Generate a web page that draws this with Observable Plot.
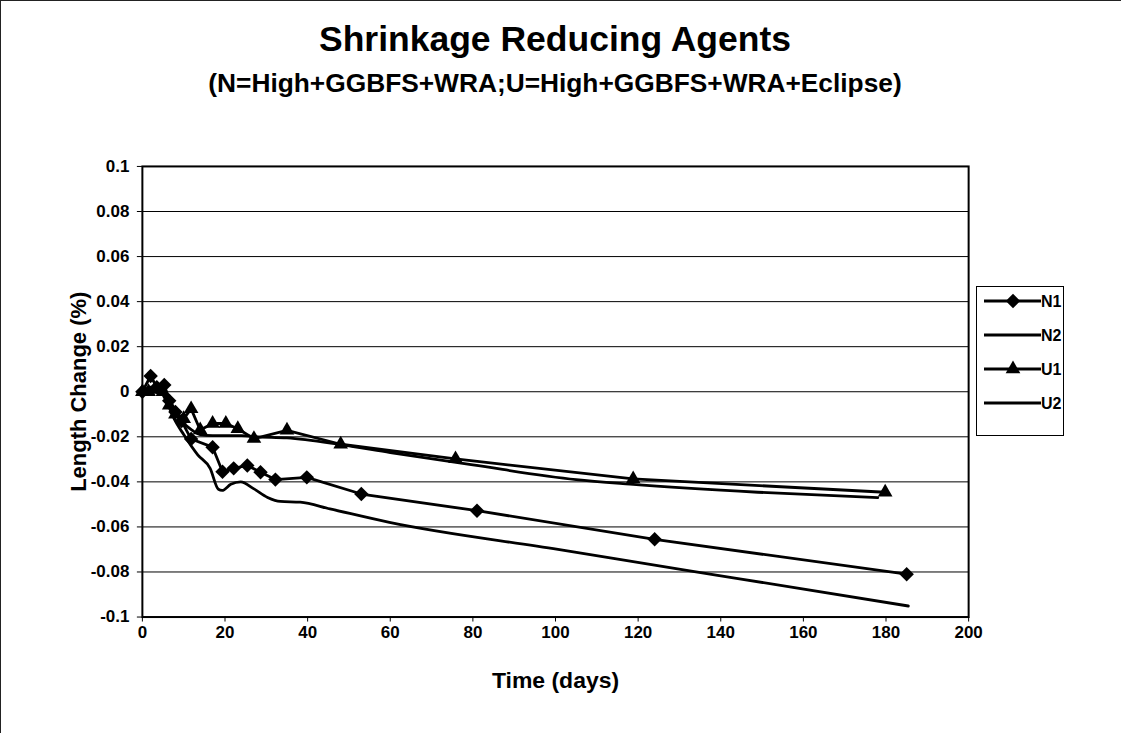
<!DOCTYPE html>
<html>
<head>
<meta charset="utf-8">
<script src="https://cdn.jsdelivr.net/npm/d3@7"></script>
<script src="https://cdn.jsdelivr.net/npm/@observablehq/plot@0.6"></script>
<style>
  body { margin: 0; background: #fff; }
  #wrap { position: relative; width: 1121px; height: 733px; box-sizing: border-box;
          border-left: 1px solid #222; border-top: 1px solid #222; overflow: hidden;
          font-family: "Liberation Sans", Arial, sans-serif; font-weight: bold; color: #000; }
  #title { position: absolute; left: 0; width: 1108px; top: 19px; text-align: center;
           font-size: 35.5px; line-height: 38px; }
  #subtitle { position: absolute; left: 0; width: 1108px; top: 68px; text-align: center;
              font-size: 26.3px; line-height: 28px; }
  #chart { position: absolute; left: 0; top: 110px; }
  #legend { position: absolute; left: 975px; top: 285px; width: 88px; height: 150px;
            box-sizing: border-box; border: 1px solid #000; background: #fff; }
</style>
</head>
<body>
<div id="wrap">
  <div id="title">Shrinkage Reducing Agents</div>
  <div id="subtitle">(N=High+GGBFS+WRA;U=High+GGBFS+WRA+Eclipse)</div>
  <div id="chart"></div>
  <div id="legend"></div>
</div>
<script>
// ---- data ----
const n1Days = [0, 2, 3.5, 5.3, 6.5, 8, 9.5, 11.8, 17, 19.4, 22.1, 25.4, 28.6, 32.2, 39.8, 53, 81, 124, 185];
const n1Vals = [0, 0.007, 0.002, 0.003, -0.004, -0.009, -0.013, -0.021, -0.0246, -0.0355, -0.034, -0.0327, -0.0357, -0.039, -0.038, -0.0454, -0.0528, -0.0655, -0.081];

const n2Days = [0, 2, 4, 6, 7.7, 10, 13.4, 16.4, 18.4, 19.3, 21.4, 23.8, 26.9, 30.3, 33.4, 38.2, 45.4, 59.8, 100.6, 132.5, 143.8, 185.4];
const n2Vals = [0, 0.002, 0.001, -0.005, -0.012, -0.019, -0.028, -0.034, -0.0433, -0.0438, -0.0411, -0.040, -0.043, -0.0469, -0.0487, -0.049, -0.052, -0.058, -0.070, -0.0795, -0.0828, -0.0951];

const u1Days = [0, 1.5, 3, 5, 6.5, 8, 10, 11.8, 14, 17, 20.2, 23.1, 27, 35, 48, 75.8, 118.8, 179.8];
const u1Vals = [0, 0, 0.001, 0, -0.006, -0.010, -0.012, -0.0076, -0.017, -0.0141, -0.0141, -0.0164, -0.0208, -0.0171, -0.0233, -0.0298, -0.0387, -0.0446];

const u2Days = [0, 3, 5, 6.5, 8, 10, 12, 14, 17, 20, 24, 28, 35, 48, 60, 80, 105, 118, 149, 178];
const u2Vals = [0, 0.001, 0, -0.004, -0.009, -0.014, -0.017, -0.019, -0.0195, -0.0195, -0.0195, -0.020, -0.0205, -0.0235, -0.027, -0.0325, -0.039, -0.041, -0.0446, -0.047];

const seriesNames = ["N1", "N2", "U1", "U2"];
const xTicks = [0, 20, 40, 60, 80, 100, 120, 140, 160, 180, 200];
const xTickLabels = ["0", "20", "40", "60", "80", "100", "120", "140", "160", "180", "200"];
const yTicks = [0.1, 0.08, 0.06, 0.04, 0.02, 0, -0.02, -0.04, -0.06, -0.08, -0.1];
const yTickLabels = ["0.1", "0.08", "0.06", "0.04", "0.02", "0", "-0.02", "-0.04", "-0.06", "-0.08", "-0.1"];

const toRows = (days, vals) => days.map((d, i) => ({day: d, v: vals[i]}));
const N1 = toRows(n1Days, n1Vals);
const N2 = toRows(n2Days, n2Vals);
const U1 = toRows(u1Days, u1Vals);
const U2 = toRows(u2Days, u2Vals);

const FONT = "'Liberation Sans', Arial, sans-serif";

const chart = Plot.plot({
  width: 1121,
  height: 623,
  marginTop: 55,
  marginBottom: 117,
  marginLeft: 141,
  marginRight: 153,
  x: {domain: [0, 200]},
  y: {domain: [-0.1, 0.1]},
  style: {fontFamily: FONT, fontSize: "17px", fontWeight: "bold", color: "#000", background: "transparent", overflow: "visible"},
  marks: [
    Plot.gridY(yTicks, {stroke: "#000", strokeOpacity: 1, strokeWidth: 1}),
    Plot.axisY(yTicks, {tickSize: 5, tickPadding: 8, fontSize: 17, fontWeight: "bold",
      tickFormat: d => yTickLabels[yTicks.indexOf(d)], label: null}),
    Plot.axisY([], {tickSize: 0, label: "Length Change (%)", labelAnchor: "center", labelArrow: "none",
      labelOffset: 72, fontSize: 22, fontWeight: "bold"}),
    Plot.axisX(xTicks, {tickSize: 5, tickPadding: 4, fontSize: 17, fontWeight: "bold",
      tickFormat: d => xTickLabels[xTicks.indexOf(d)], label: null}),
    Plot.axisX([], {tickSize: 0, label: "Time (days)", labelAnchor: "center", labelArrow: "none",
      labelOffset: 71, fontSize: 23, fontWeight: "bold"}),
    Plot.line(U2, {x: "day", y: "v", stroke: "#000", strokeWidth: 2.8, curve: "monotone-x"}),
    Plot.line(N2, {x: "day", y: "v", stroke: "#000", strokeWidth: 2.8, curve: "monotone-x"}),
    Plot.line(U1, {x: "day", y: "v", stroke: "#000", strokeWidth: 2.8}),
    Plot.line(N1, {x: "day", y: "v", stroke: "#000", strokeWidth: 2.8}),
    Plot.dot(U1, {x: "day", y: "v", symbol: "triangle2", r: 7, fill: "#000", stroke: "none"}),
    Plot.dot(N1, {x: "day", y: "v", symbol: "diamond2", r: 6.5, fill: "#000", stroke: "none"}),
    Plot.frame({stroke: "#000", strokeWidth: 2})
  ]
});
document.getElementById("chart").appendChild(chart);

// ---- legend ----
const lg = d3.select("#legend").append("svg").attr("width", 86).attr("height", 148)
  .style("font-family", FONT).style("font-weight", "bold").style("font-size", "16px");
const symbols = {N1: d3.symbolDiamond2, N2: null, U1: d3.symbolTriangle2, U2: null};
const sizes = {N1: Math.PI * 42, U1: Math.PI * 49};
seriesNames.forEach((name, i) => {
  const y = 14 + i * 34;
  const g = lg.append("g").attr("transform", `translate(0,${y})`);
  g.append("line").attr("x1", 7).attr("x2", 64).attr("y1", 0).attr("y2", 0)
    .attr("stroke", "#000").attr("stroke-width", 2.8);
  if (symbols[name]) {
    g.append("path").attr("d", d3.symbol(symbols[name], sizes[name])())
      .attr("transform", "translate(36,0)").attr("fill", "#000");
  }
  g.append("text").attr("x", 64).attr("y", 6).text(name).attr("fill", "#000");
});
</script>
</body>
</html>
